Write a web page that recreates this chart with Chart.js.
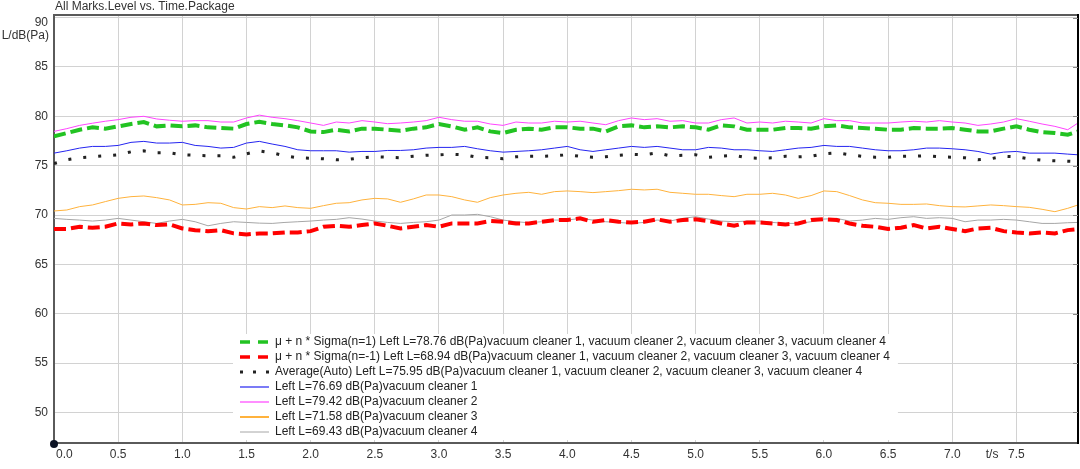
<!DOCTYPE html>
<html><head><meta charset="utf-8">
<script src="https://cdn.jsdelivr.net/npm/chart.js@4.4.1/dist/chart.umd.min.js"></script>
<style>html,body{margin:0;padding:0;background:#fff;overflow:hidden}canvas{display:block}</style>
</head><body>
<canvas id="c" width="1080" height="469"></canvas>
<script>
const time = [0.0,0.1,0.2,0.3,0.4,0.5,0.6,0.7,0.8,0.9,
1.0,1.1,1.2,1.3,1.4,1.5,1.6,1.7,1.8,1.9,
2.0,2.1,2.2,2.3,2.4,2.5,2.6,2.7,2.8,2.9,
3.0,3.1,3.2,3.3,3.4,3.5,3.6,3.7,3.8,3.9,
4.0,4.1,4.2,4.3,4.4,4.5,4.6,4.7,4.8,4.9,
5.0,5.1,5.2,5.3,5.4,5.5,5.6,5.7,5.8,5.9,
6.0,6.1,6.2,6.3,6.4,6.5,6.6,6.7,6.8,6.9,
7.0,7.1,7.2,7.3,7.4,7.5,7.6,7.7,7.8,7.9,7.98];

const sigmaPlus = [77.97,78.30,78.64,78.88,78.75,78.98,79.22,79.42,78.98,79.08,
78.98,79.08,78.88,78.81,78.75,79.22,79.45,79.22,79.08,78.88,
78.47,78.40,78.64,78.47,78.75,78.75,78.64,78.54,78.75,78.88,
79.22,78.98,78.64,78.88,78.47,78.30,78.64,78.75,78.64,78.88,
78.88,78.75,78.75,78.47,78.98,79.08,78.88,78.98,78.88,78.98,
78.88,78.64,79.08,78.98,78.64,78.64,78.64,78.81,78.81,78.75,
78.98,79.08,78.88,78.81,78.75,78.64,78.64,78.81,78.75,78.75,
78.81,78.64,78.47,78.47,78.75,78.98,78.64,78.40,78.30,78.14,78.47];

const sigmaMinus = [68.58,68.58,68.81,68.71,68.81,69.15,69.05,69.15,68.98,69.05,
68.64,68.47,68.37,68.47,68.14,68.03,68.14,68.14,68.24,68.24,
68.37,68.81,68.91,68.81,68.98,69.15,68.91,68.64,68.81,68.98,
68.81,69.15,69.15,69.15,69.39,69.32,69.15,69.15,69.32,69.49,
69.49,69.66,69.32,69.49,69.32,69.25,69.32,69.56,69.32,69.49,
69.56,69.39,69.15,68.91,69.25,69.25,69.15,69.05,69.15,69.49,
69.59,69.49,69.15,68.91,68.81,68.58,68.71,68.98,68.64,68.81,
68.58,68.37,68.64,68.71,68.37,68.24,68.14,68.24,68.14,68.47,68.58];

const averageAuto = [75.20,75.60,75.80,75.90,76.00,76.10,76.40,76.50,76.30,76.30,
76.10,76.05,76.00,76.00,75.85,76.20,76.50,76.30,76.00,75.80,
75.75,75.70,75.60,75.65,75.80,75.90,75.85,75.80,75.95,76.05,
76.10,76.15,76.10,75.85,75.80,75.70,75.90,75.95,75.95,76.00,
76.10,75.95,75.85,75.90,76.05,76.15,76.10,76.30,76.00,76.05,
76.10,75.85,75.95,76.05,75.80,75.75,75.80,75.95,75.90,75.95,
76.20,76.30,76.10,75.95,75.85,75.85,75.95,75.95,76.00,75.90,
75.85,75.80,75.60,75.70,75.95,75.90,75.70,75.55,75.50,75.45,75.40];

const cleaner1 = [76.27,76.51,76.78,76.95,76.95,77.05,77.36,77.46,77.29,77.29,
77.36,77.05,76.95,76.78,76.85,77.29,77.46,77.19,76.95,76.61,
76.51,76.51,76.51,76.37,76.44,76.44,76.54,76.54,76.61,76.78,
76.85,76.85,76.95,76.71,76.51,76.37,76.44,76.51,76.61,76.78,
76.95,76.61,76.44,76.61,76.78,76.95,76.85,76.95,76.78,76.61,
76.61,76.85,76.78,76.61,76.61,76.51,76.44,76.61,76.78,76.85,
77.05,76.95,76.95,76.78,76.61,76.51,76.51,76.61,76.78,76.78,
76.71,76.61,76.44,76.17,76.37,76.44,76.27,76.27,76.27,76.17,76.10];

const cleaner2 = [78.47,78.75,79.08,79.30,79.50,79.66,79.90,80.00,79.73,79.60,
79.50,79.56,79.56,79.42,79.42,79.83,80.12,79.90,79.76,79.56,
79.32,79.08,79.42,79.32,79.56,79.42,79.25,79.32,79.42,79.56,
79.90,79.66,79.50,79.50,79.22,79.08,79.42,79.32,79.32,79.50,
79.42,79.50,79.32,79.15,79.56,79.83,79.66,79.76,79.50,79.56,
79.32,79.32,79.66,79.83,79.32,79.42,79.32,79.50,79.42,79.32,
79.76,79.56,79.56,79.32,79.32,79.32,79.42,79.50,79.42,79.56,
79.42,79.32,79.08,79.22,79.42,79.76,79.50,79.22,78.98,78.64,79.32];

const cleaner3 = [70.41,70.51,70.85,71.02,71.36,71.69,71.86,71.93,71.76,71.53,
71.02,71.08,71.25,71.19,70.75,70.61,70.85,70.75,70.92,70.75,
70.68,70.95,71.19,71.25,71.53,71.69,71.63,71.29,71.63,72.03,
72.03,71.86,71.53,71.29,71.76,72.03,72.20,72.30,72.10,72.37,
72.44,72.37,72.27,72.37,72.47,72.61,72.54,72.61,72.30,72.20,
72.10,72.10,71.97,71.86,72.10,72.10,72.20,72.03,71.69,71.97,
72.44,72.37,71.97,71.53,71.25,71.19,71.08,71.08,71.12,70.95,
70.85,70.82,70.92,71.02,70.95,70.85,70.78,70.58,70.34,70.68,71.02];

const cleaner4 = [69.66,69.56,69.49,69.39,69.49,69.66,69.49,69.32,69.15,69.39,
69.56,69.32,68.91,69.15,69.32,69.25,69.18,69.15,69.25,69.32,
69.39,69.49,69.56,69.73,69.59,69.39,69.25,69.15,69.25,69.32,
69.49,70.00,70.00,70.07,69.83,69.49,69.32,69.22,69.32,69.49,
69.49,69.66,69.49,69.32,69.25,69.15,69.25,69.49,69.39,69.66,
69.83,69.59,69.39,69.32,69.39,69.39,69.25,69.15,69.15,69.32,
69.59,69.66,69.39,69.49,69.66,69.56,69.73,69.83,69.66,69.73,
69.66,69.32,69.49,69.49,69.56,69.49,69.32,69.15,69.15,69.22,69.25];

const seriesLabels = [
  'μ + n * Sigma(n=1) Left L=78.76 dB(Pa)vacuum cleaner 1, vacuum cleaner 2, vacuum cleaner 3, vacuum cleaner 4',
  'μ + n * Sigma(n=-1) Left L=68.94 dB(Pa)vacuum cleaner 1, vacuum cleaner 2, vacuum cleaner 3, vacuum cleaner 4',
  'Average(Auto) Left L=75.95 dB(Pa)vacuum cleaner 1, vacuum cleaner 2, vacuum cleaner 3, vacuum cleaner 4',
  'Left L=76.69 dB(Pa)vacuum cleaner 1',
  'Left L=79.42 dB(Pa)vacuum cleaner 2',
  'Left L=71.58 dB(Pa)vacuum cleaner 3',
  'Left L=69.43 dB(Pa)vacuum cleaner 4'
];
const xTicks = [0.0,0.5,1.0,1.5,2.0,2.5,3.0,3.5,4.0,4.5,5.0,5.5,6.0,6.5,7.0,7.5];
const yTicks = [50,55,60,65,70,75,80,85,90];
const chartTitle = 'All Marks.Level vs. Time.Package';
const yTitle = 'L/dB(Pa)';
const xTitle = 't/s';

const FONT = '"Liberation Sans", Arial, sans-serif';
const pts = arr => time.map((t, i) => ({x: t, y: arr[i]}));

const styles = [
  {color:'#22c322', width:4, dash:[12,5], legDash:[10,8], legWidth:3.5},
  {color:'#ff0000', width:4, dash:[12,5], legDash:[10,8], legWidth:3.5},
  {color:'#222222', width:3, dash:[3,12], legDash:[3,10], legWidth:3},
  {color:'#2424f0', width:1, dash:[], legDash:[], legWidth:1.2},
  {color:'#ff44ff', width:1, dash:[], legDash:[], legWidth:1.2},
  {color:'#ffb23c', width:1, dash:[], legDash:[], legWidth:2},
  {color:'#a6a6a6', width:1, dash:[], legDash:[], legWidth:1}
];
const seriesData = [sigmaPlus, sigmaMinus, averageAuto, cleaner1, cleaner2, cleaner3, cleaner4];

const datasets = seriesData.map((arr, i) => ({
  label: seriesLabels[i],
  data: pts(arr),
  borderColor: styles[i].color,
  borderWidth: styles[i].width,
  borderDash: styles[i].dash,
  pointRadius: 0,
  tension: 0,
  fill: false
}));

const decor = {
  id: 'decor',
  afterDraw(chart) {
    const {ctx, chartArea: a, scales: {x, y}} = chart;
    ctx.save();
    // top and right frame
    ctx.lineWidth = 2;
    ctx.strokeStyle = '#5a5a5a';
    ctx.beginPath(); ctx.moveTo(a.left, a.top); ctx.lineTo(a.right, a.top); ctx.stroke();
    ctx.strokeStyle = '#000';
    ctx.beginPath(); ctx.moveTo(a.right, a.top - 1); ctx.lineTo(a.right, a.bottom + 1); ctx.stroke();
    // inward ticks on right frame
    ctx.lineWidth = 1; ctx.strokeStyle = '#888';
    yTicks.forEach(v => {
      const py = Math.round(y.getPixelForValue(v)) + 0.5;
      ctx.beginPath(); ctx.moveTo(a.right - 5, py); ctx.lineTo(a.right, py); ctx.stroke();
    });

    // title
    ctx.fillStyle = '#333';
    ctx.font = '12px ' + FONT;
    ctx.textAlign = 'left'; ctx.textBaseline = 'middle';
    ctx.fillText(chartTitle, a.left + 1, 7);

    // y tick labels
    ctx.textAlign = 'right';
    yTicks.forEach(v => {
      const py = Math.max(y.getPixelForValue(v), a.top + 8);
      ctx.fillText(String(v), a.left - 6, py);
    });
    ctx.fillText(yTitle, a.left - 5, a.top + 21);

    // x tick labels
    const ly = a.bottom + 12;
    xTicks.forEach((v, i) => {
      const px = x.getPixelForValue(v);
      if (i === 0) { ctx.textAlign = 'left'; ctx.fillText(v.toFixed(1), px + 2, ly); }
      else { ctx.textAlign = 'center'; ctx.fillText(v.toFixed(1), px, ly); }
    });
    ctx.textAlign = 'right';
    ctx.fillText(xTitle, x.getPixelForValue(xTicks[xTicks.length - 1]) - 18, ly);

    // legend
    ctx.font = '12px ' + FONT;
    let maxW = 0;
    seriesLabels.forEach(s => { maxW = Math.max(maxW, ctx.measureText(s).width); });
    const lx = a.left + 179, lt = a.top + 319;
    ctx.fillStyle = '#fff';
    ctx.fillRect(lx, lt, 42 + maxW + 8, a.bottom - 3 - lt);
    seriesLabels.forEach((s, i) => {
      const ry = lt + 8 + 15 * i;
      const st = styles[i];
      ctx.save();
      ctx.strokeStyle = st.color; ctx.lineWidth = st.legWidth;
      ctx.setLineDash(st.legDash);
      ctx.beginPath(); ctx.moveTo(lx + 7, ry); ctx.lineTo(lx + 36, ry); ctx.stroke();
      ctx.restore();
      ctx.fillStyle = '#222';
      ctx.textAlign = 'left'; ctx.textBaseline = 'middle';
      ctx.fillText(s, lx + 42, ry);
    });

    // origin dot
    ctx.fillStyle = '#0b1324';
    ctx.beginPath(); ctx.arc(x.getPixelForValue(0), a.bottom + 1, 4, 0, Math.PI * 2); ctx.fill();
    ctx.restore();
  }
};

new Chart(document.getElementById('c'), {
  type: 'line',
  data: { datasets },
  options: {
    responsive: false,
    animation: false,
    devicePixelRatio: 1,
    layout: { padding: { left: 0, right: 2, top: 15, bottom: 0 } },
    plugins: { legend: { display: false }, title: { display: false }, tooltip: { enabled: false } },
    scales: {
      x: {
        type: 'linear', min: 0, max: 7.98,
        afterBuildTicks: s => { s.ticks = xTicks.map(v => ({value: v})); },
        afterFit: s => { s.height = 26; },
        ticks: { display: false },
        grid: { color: '#d2d2d2', lineWidth: 1, drawTicks: false },
        border: { color: '#5a5a5a', width: 2 }
      },
      y: {
        type: 'linear', min: 46.91, max: 90.26,
        afterBuildTicks: s => { s.ticks = yTicks.map(v => ({value: v})); },
        afterFit: s => { s.width = 54; },
        ticks: { display: false },
        grid: { color: '#d2d2d2', lineWidth: 1, drawTicks: false },
        border: { color: '#5a5a5a', width: 2 }
      }
    }
  },
  plugins: [decor]
});
</script>
</body></html>
